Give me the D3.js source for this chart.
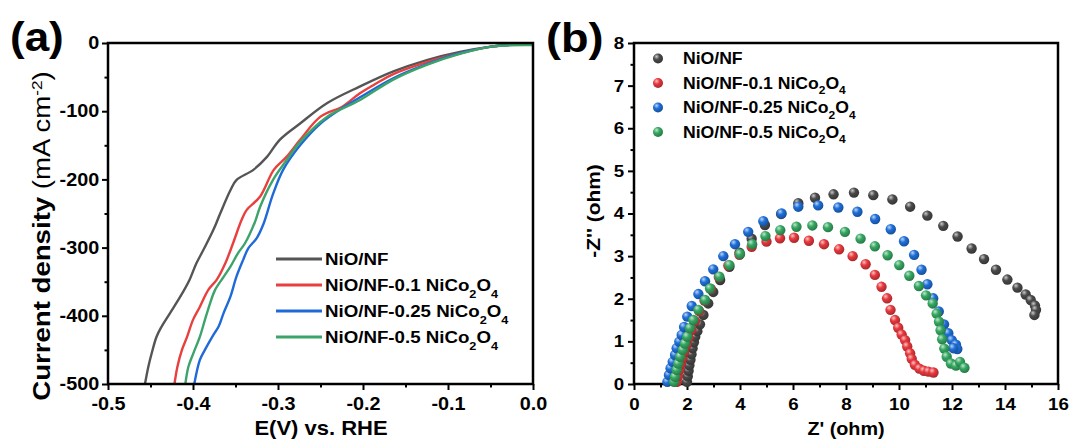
<!DOCTYPE html>
<html>
<head>
<meta charset="utf-8">
<script src="https://cdn.jsdelivr.net/npm/d3@7"></script>
<style>
  body { margin: 0; background: #fff; }
  text { font-family: "Liberation Sans", Arial, sans-serif; font-weight: bold; fill: #000; }
</style>
</head>
<body>
<svg id="fig" width="1072" height="444"></svg>
<script>
// (a) LSV curves: potential E (V vs RHE) and current density (mA cm-2)
var lsvNames = ["NiO/NF", "NiO/NF-0.1", "NiO/NF-0.25", "NiO/NF-0.5"];
var lsvColors = ["#555555", "#e8403f", "#1f6ad8", "#3ca46a"];

var E_nio = [-0.4565, -0.4526, -0.4486, -0.443, -0.437, -0.427, -0.415, -0.404, -0.396, -0.388, -0.376, -0.368, -0.356, -0.349, -0.329, -0.313, -0.298, -0.274, -0.242, -0.204, -0.165, -0.125, -0.086, -0.047, -0.020, 0];
var J_nio = [-500, -475, -455, -431, -416, -396, -372, -347, -323, -304, -274, -250, -216, -201, -186, -167, -142, -118, -88, -64, -42, -25, -13, -5, -2, 0];

var E_01 = [-0.4218, -0.4184, -0.413, -0.407, -0.400, -0.392, -0.382, -0.372, -0.362, -0.353, -0.343, -0.337, -0.321, -0.305, -0.290, -0.274, -0.250, -0.224, -0.204, -0.184, -0.165, -0.125, -0.086, -0.047, -0.020, 0];
var J_01 = [-500, -475, -450, -431, -406, -387, -362, -347, -323, -294, -260, -245, -225, -186, -167, -142, -108, -93, -74, -59, -46, -28, -15, -5, -2, -1];

var E_025 = [-0.3985, -0.392, -0.386, -0.376, -0.370, -0.364, -0.356, -0.349, -0.341, -0.335, -0.325, -0.317, -0.306, -0.294, -0.274, -0.250, -0.224, -0.204, -0.165, -0.125, -0.086, -0.047, 0];
var J_025 = [-500, -465, -450, -428, -416, -396, -372, -343, -318, -301, -286, -265, -222, -186, -150, -118, -95, -80, -52, -31, -15, -5, -2];

var E_05 = [-0.409, -0.4055, -0.3996, -0.392, -0.386, -0.380, -0.374, -0.364, -0.356, -0.347, -0.339, -0.327, -0.321, -0.306, -0.290, -0.274, -0.242, -0.204, -0.165, -0.125, -0.086, -0.047, 0];
var J_05 = [-500, -475, -455, -431, -406, -382, -362, -343, -328, -308, -294, -262, -240, -201, -172, -145, -108, -84, -54, -32, -16, -5, -3];

var xTicksA = [-0.5, -0.4, -0.3, -0.2, -0.1, 0];
var xMinorA = [-0.45, -0.35, -0.25, -0.15, -0.05];
var yTicksA = [0, -100, -200, -300, -400, -500];
var yMinorA = [-50, -150, -250, -350, -450];

// (b) Nyquist plots: Z' and -Z'' (ohm)
var eisColors = ["#4a4a4a", "#e8383d", "#1e6fd9", "#36a862"];

var Zre_nio = [2.00, 2.03, 2.06, 2.09, 2.13, 2.17, 2.21, 2.26, 2.31, 2.39, 2.49, 2.62, 2.80, 2.99, 3.25, 3.60, 3.98, 4.44, 4.94, 5.55, 6.20, 6.83, 7.53, 8.30, 9.03, 9.75, 10.42, 11.07, 11.67, 12.21, 12.74, 13.21, 13.66, 14.09, 14.47, 14.78, 14.97, 15.13, 15.17, 15.11];
var Zim_nio = [0.05, 0.18, 0.31, 0.44, 0.57, 0.70, 0.84, 0.98, 1.11, 1.24, 1.40, 1.62, 1.89, 2.16, 2.44, 2.75, 3.08, 3.41, 3.73, 3.99, 4.24, 4.37, 4.45, 4.49, 4.43, 4.33, 4.16, 3.95, 3.71, 3.46, 3.18, 2.93, 2.68, 2.45, 2.26, 2.10, 1.97, 1.84, 1.74, 1.62];

var Zre_01 = [1.62, 1.66, 1.71, 1.76, 1.82, 1.89, 1.97, 2.06, 2.17, 2.30, 2.46, 2.66, 2.90, 3.20, 3.56, 3.98, 4.44, 5.00, 5.51, 6.04, 6.60, 7.17, 7.74, 8.25, 8.74, 9.09, 9.34, 9.55, 9.68, 9.85, 9.97, 10.10, 10.23, 10.31, 10.42, 10.48, 10.60, 10.77, 10.94, 11.11, 11.30];
var Zim_01 = [0.05, 0.18, 0.32, 0.46, 0.60, 0.75, 0.91, 1.08, 1.27, 1.48, 1.71, 1.96, 2.23, 2.51, 2.78, 3.03, 3.22, 3.34, 3.42, 3.43, 3.36, 3.28, 3.16, 3.00, 2.81, 2.56, 2.28, 2.01, 1.74, 1.50, 1.32, 1.16, 1.03, 0.88, 0.72, 0.59, 0.45, 0.36, 0.31, 0.29, 0.27];

var Zre_025 = [1.26, 1.32, 1.38, 1.46, 1.55, 1.61, 1.71, 1.80, 1.89, 2.01, 2.18, 2.43, 2.68, 2.99, 3.37, 3.81, 4.31, 4.88, 5.57, 6.20, 6.95, 7.71, 8.43, 9.10, 9.69, 10.19, 10.57, 10.85, 11.07, 11.29, 11.50, 11.70, 11.86, 11.99, 12.15, 12.20, 12.05];
var Zim_025 = [0.05, 0.21, 0.37, 0.52, 0.68, 0.84, 0.99, 1.15, 1.34, 1.58, 1.83, 2.11, 2.41, 2.69, 3.00, 3.28, 3.57, 3.82, 4.00, 4.16, 4.19, 4.14, 4.04, 3.87, 3.63, 3.35, 3.03, 2.68, 2.34, 2.01, 1.70, 1.40, 1.19, 1.03, 0.92, 0.82, 0.84];

var Zre_05 = [1.51, 1.55, 1.61, 1.67, 1.74, 1.84, 1.92, 2.01, 2.11, 2.24, 2.43, 2.68, 2.87, 3.22, 3.60, 4.00, 4.46, 4.96, 5.52, 6.13, 6.73, 7.32, 7.96, 8.55, 9.09, 9.57, 10.01, 10.39, 10.75, 11.02, 11.27, 11.42, 11.51, 11.57, 11.63, 11.71, 11.80, 11.96, 12.15, 12.30, 12.47];
var Zim_05 = [0.05, 0.17, 0.33, 0.48, 0.64, 0.80, 0.95, 1.11, 1.31, 1.50, 1.74, 1.97, 2.24, 2.52, 2.79, 3.05, 3.28, 3.47, 3.61, 3.69, 3.72, 3.68, 3.57, 3.41, 3.23, 3.02, 2.79, 2.54, 2.30, 2.08, 1.89, 1.65, 1.46, 1.26, 1.05, 0.83, 0.64, 0.48, 0.43, 0.52, 0.38];

var xTicksB = [0, 2, 4, 6, 8, 10, 12, 14, 16];
var xMinorB = [1, 3, 5, 7, 9, 11, 13, 15];
var yTicksB = [0, 1, 2, 3, 4, 5, 6, 7, 8];
var yMinorB = [0.5, 1.5, 2.5, 3.5, 4.5, 5.5, 6.5, 7.5];

// layout
var text_sx = 1.1;
var axis_w = 2.5;
var major_len = 6;
var minor_len = 3.5;
var boxA = { l: 108, r: 533, t: 43, b: 384 };
var boxB = { l: 634, r: 1058, t: 43, b: 384 };

var svg = d3.select("#fig");
var defs = svg.append("defs");

function stretch(sel) {
    sel.attr("transform", `scale(${text_sx},1)`);
}

// frame, ticks and labels for one panel
function drawAxes(box, x, y, xt, xm, yt, ym, xfmt, yfmt, fs, xpad, ypad) {
    var g = svg.append("g");

    g.append("g").attr("transform", `translate(0,${box.b})`)
        .call(d3.axisBottom(x).tickValues(xt).tickFormat(xfmt).tickSizeOuter(0).tickSize(major_len).tickPadding(xpad));
    g.append("g").attr("transform", `translate(0,${box.b})`)
        .call(d3.axisBottom(x).tickValues(xm).tickFormat("").tickSizeOuter(0).tickSize(minor_len));
    g.append("g").attr("transform", `translate(${box.l},0)`)
        .call(d3.axisLeft(y).tickValues(yt).tickFormat(yfmt).tickSizeOuter(0).tickSize(major_len).tickPadding(ypad));
    g.append("g").attr("transform", `translate(${box.l},0)`)
        .call(d3.axisLeft(y).tickValues(ym).tickFormat("").tickSizeOuter(0).tickSize(minor_len));

    g.selectAll(".domain").remove();
    g.selectAll(".tick line").attr("stroke", "#000").attr("stroke-width", 2);
    g.selectAll(".tick text").style("font-size", fs + "px").style("font-family", "'Liberation Sans', Arial, sans-serif")
        .style("font-weight", "bold").attr("fill", "#000").call(stretch);

    g.append("rect").attr("x", box.l).attr("y", box.t)
        .attr("width", box.r - box.l).attr("height", box.b - box.t)
        .attr("fill", "none").attr("stroke", "#000").attr("stroke-width", axis_w);
    return g;
}

function subLabel(sel, base, withFormula) {
    sel.append("tspan").text(base);
    if (withFormula) {
        sel.append("tspan").text(" NiCo");
        sel.append("tspan").attr("baseline-shift", "sub").attr("font-size", "68%").text("2");
        sel.append("tspan").text("O");
        sel.append("tspan").attr("baseline-shift", "sub").attr("font-size", "68%").text("4");
    }
}

//================ panel (a)
var xA = d3.scaleLinear().domain([-0.5, 0]).range([boxA.l, boxA.r]);
var yA = d3.scaleLinear().domain([-500, 0]).range([boxA.b, boxA.t]);

var lsv = [[E_nio, J_nio], [E_01, J_01], [E_025, J_025], [E_05, J_05]];
var line = d3.line().x(d => xA(d[0])).y(d => yA(d[1])).curve(d3.curveCatmullRom.alpha(0.5));

defs.append("clipPath").attr("id", "clipA").append("rect")
    .attr("x", boxA.l).attr("y", boxA.t).attr("width", boxA.r - boxA.l).attr("height", boxA.b - boxA.t);

var gA = svg.append("g").attr("clip-path", "url(#clipA)");
lsv.forEach(function (s, i) {
    var pts = s[0].map((e, k) => [e, s[1][k]]);
    gA.append("path").datum(pts).attr("d", line)
        .attr("fill", "none").attr("stroke", lsvColors[i]).attr("stroke-width", 2.4)
        .attr("stroke-linejoin", "round");
});

drawAxes(boxA, xA, yA, xTicksA, xMinorA, yTicksA, yMinorA, d => d.toFixed(1), d => String(d), 18, 7, 2);

// legend (a)
var legA_y = [259, 285, 311, 337];
lsvNames.forEach(function (n, i) {
    svg.append("line").attr("x1", 276).attr("x2", 322).attr("y1", legA_y[i]).attr("y2", legA_y[i])
        .attr("stroke", lsvColors[i]).attr("stroke-width", 3);
    var t = svg.append("g").attr("transform", `translate(325,${legA_y[i] + 6})`)
        .append("text").style("font-size", "17px").call(stretch);
    subLabel(t, n, i > 0);
});

// titles (a)
svg.append("g").attr("transform", "translate(10,51)").append("text")
    .style("font-size", "40px").text("(a)").call(stretch);
svg.append("g").attr("transform", "translate(321,435)").append("text")
    .attr("text-anchor", "middle").style("font-size", "20px").text("E(V) vs. RHE").call(stretch);
var yt = svg.append("g").attr("transform", "translate(50,236) rotate(-90)").append("text")
    .attr("text-anchor", "middle").style("font-size", "24px")
    .attr("transform", "scale(1.15,1)");
yt.append("tspan").text("Current density ");
yt.append("tspan").style("font-weight", "normal").text("(mA cm");
yt.append("tspan").style("font-weight", "normal").attr("baseline-shift", "super").attr("font-size", "62%").text("-2");
yt.append("tspan").style("font-weight", "normal").text(")");

//================ panel (b)
var xB = d3.scaleLinear().domain([0, 16]).range([boxB.l, boxB.r]);
var yB = d3.scaleLinear().domain([0, 8]).range([boxB.b, boxB.t]);

eisColors.forEach(function (c, i) {
    var g = defs.append("radialGradient").attr("id", "ball" + i)
        .attr("cx", "0.38").attr("cy", "0.35").attr("r", "0.65").attr("fx", "0.35").attr("fy", "0.3");
    g.append("stop").attr("offset", "0").attr("stop-color", d3.interpolateRgb(c, "#ffffff")(0.7));
    g.append("stop").attr("offset", "0.45").attr("stop-color", c);
    g.append("stop").attr("offset", "1").attr("stop-color", d3.color(c).darker(0.9));
});

drawAxes(boxB, xB, yB, xTicksB, xMinorB, yTicksB, yMinorB, d => String(d), d => String(d), 17, 8, 3);

var eis = [[Zre_nio, Zim_nio, 0], [Zre_01, Zim_01, 1], [Zre_025, Zim_025, 2], [Zre_05, Zim_05, 3]];
eis.forEach(function (s) {
    var pts = s[0].map((z, k) => [z, s[1][k]]);
    svg.append("g").selectAll("circle").data(pts).enter().append("circle")
        .attr("cx", d => xB(d[0])).attr("cy", d => yB(d[1])).attr("r", 5.2)
        .attr("fill", `url(#ball${s[2]})`);
});

// legend (b)
var legB_y = [58.5, 83, 107.5, 132];
lsvNames.forEach(function (n, i) {
    svg.append("circle").attr("cx", 658).attr("cy", legB_y[i]).attr("r", 5)
        .attr("fill", `url(#ball${i})`);
    var t = svg.append("g").attr("transform", `translate(683,${legB_y[i] + 5.5})`)
        .append("text").style("font-size", "16px").call(stretch);
    subLabel(t, n, i > 0);
});

// titles (b)
svg.append("g").attr("transform", "translate(546,52)").append("text")
    .style("font-size", "41px").text("(b)").call(stretch);
svg.append("g").attr("transform", "translate(846,435)").append("text")
    .attr("text-anchor", "middle").style("font-size", "18px").text("Z' (ohm)").call(stretch);
svg.append("g").attr("transform", "translate(600,211) rotate(-90)").append("text")
    .attr("text-anchor", "middle").style("font-size", "19px").text("-Z'' (ohm)").call(stretch);
</script>
</body>
</html>
